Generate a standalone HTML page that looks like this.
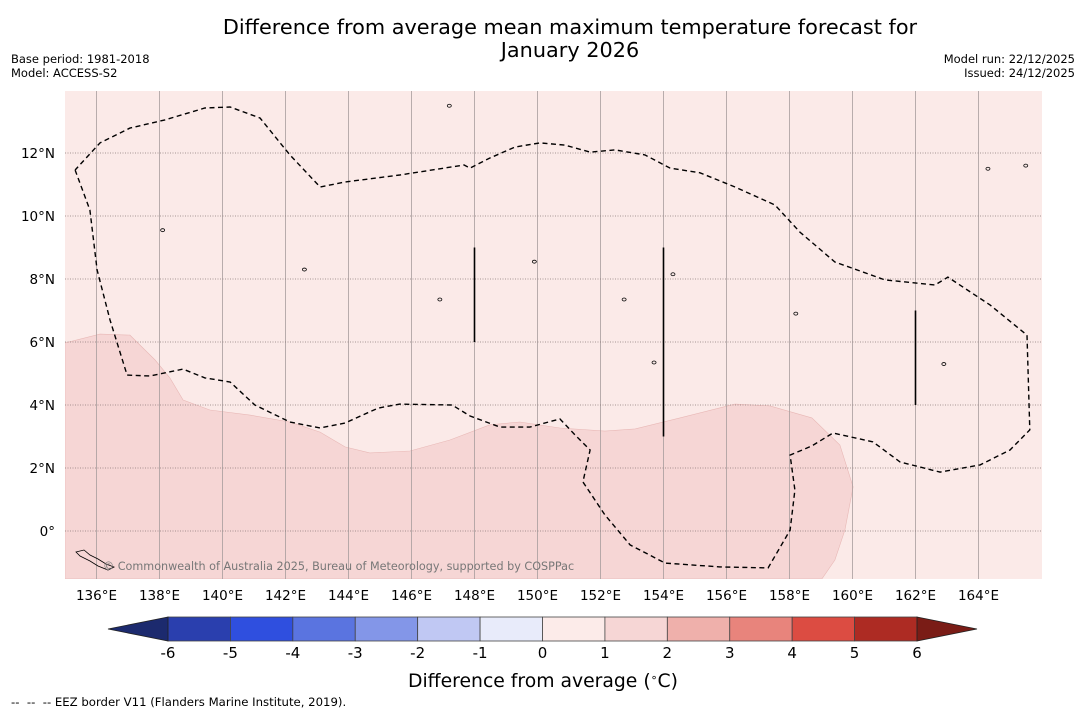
<!DOCTYPE html>
<html><head><meta charset="utf-8">
<style>
body{margin:0;background:#fff;width:1085px;height:713px;overflow:hidden;font-family:"DejaVu Sans","Liberation Sans",sans-serif;}
svg{display:block}
</style></head>
<body>
<svg id="chart" width="1085" height="713" xmlns="http://www.w3.org/2000/svg">
<text x="570" y="34" text-anchor="middle" font-size="20.8" fill="#000">Difference from average mean maximum temperature forecast for</text>
<text x="570" y="57" text-anchor="middle" font-size="20.8" fill="#000">January 2026</text>
<text x="11" y="63" font-size="11.5">Base period: 1981-2018</text>
<text x="11" y="77" font-size="11.5">Model: ACCESS-S2</text>
<text x="1075" y="63" font-size="11.5" text-anchor="end">Model run: 22/12/2025</text>
<text x="1075" y="77" font-size="11.5" text-anchor="end">Issued: 24/12/2025</text>
<g id="map"></g>
<g id="cbar"></g>
<text x="543" y="687" text-anchor="middle" font-size="18.8">Difference from average (<tspan dy="-6" font-size="11">∘</tspan><tspan dy="6">C)</tspan></text>
<text x="11" y="706" font-size="11.7" xml:space="preserve">--  --  -- EEZ border V11 (Flanders Marine Institute, 2019).</text>
</svg>
<script>
const lonTicks=[136,138,140,142,144,146,148,150,152,154,156,158,160,162,164];
const latTicks=[0,2,4,6,8,10,12];
const anomalyRegion=[[135,5.97],[136.11,6.25],[137.06,6.22],[137.86,5.43],[138.33,4.86],[138.75,4.16],[139.6,3.84],[140.87,3.68],[142.14,3.46],[143.1,3.14],[143.89,2.67],[144.68,2.48],[145.95,2.54],[147.22,2.89],[148.49,3.37],[149.44,3.46],[150.71,3.27],[152.14,3.17],[153.1,3.24],[154.52,3.59],[156.27,4.03],[157.38,3.97],[158.71,3.59],[159.6,2.73],[160.02,1.4],[159.76,0.03],[159.44,-0.92],[159.03,-1.52],[135,-1.52]];
const eezBorder=[[135.32,11.46],[135.79,10.19],[136.02,8.29],[136.43,6.7],[136.97,4.95],[137.7,4.92],[138.75,5.14],[139.44,4.86],[140.24,4.73],[141.03,4.0],[142.14,3.46],[143.1,3.27],[143.89,3.43],[144.94,3.9],[145.63,4.03],[147.29,4.0],[147.86,3.65],[148.81,3.3],[149.76,3.3],[150.71,3.56],[151.19,3.05],[151.67,2.57],[151.44,1.56],[152.14,0.51],[152.94,-0.44],[154.05,-1.02],[155.79,-1.14],[157.32,-1.17],[158.02,0.03],[158.17,1.3],[158.02,2.41],[158.71,2.7],[159.38,3.11],[160.65,2.83],[161.51,2.19],[162.78,1.87],[164.05,2.1],[165.0,2.57],[165.63,3.21],[165.54,6.22],[164.37,7.17],[163.03,8.06],[162.62,7.81],[161.03,7.97],[159.44,8.54],[158.33,9.49],[157.54,10.35],[156.27,10.92],[155.16,11.37],[154.21,11.52],[153.41,11.94],[152.46,12.1],[151.67,12.03],[150.87,12.25],[150.08,12.32],[149.29,12.19],[148.49,11.84],[147.86,11.52],[147.67,11.62],[145.63,11.3],[143.89,11.08],[143.1,10.92],[142.14,11.94],[141.19,13.11],[140.24,13.46],[139.44,13.43],[138.17,13.05],[137.06,12.79],[136.11,12.32],[135.32,11.46]];
const meridianSegments=[[148,6,9],[154,3,9],[162,4,7]];
const islands=[[147.2,13.5],[138.1,9.55],[142.6,8.3],[152.75,7.35],[158.2,6.9],[162.9,5.3],[153.7,5.35],[164.3,11.5],[165.5,11.6],[146.9,7.35],[149.9,8.55],[154.3,8.15]];
const cbLevels=[-6,-5,-4,-3,-2,-1,0,1,2,3,4,5,6];
const cbColors=["#2a3fae","#2f4fdf","#5a74e0","#8396e8","#c0c8f3","#e8ebfa","#fcebe9","#f6d6d5","#efb0ab","#e8847c","#dc4c42","#ad2b23"];
const cbExtend=["#1c2a6e","#7a1c16"];

const NS="http://www.w3.org/2000/svg";
const X0=65,X1=1042,Y0=91,Y1=579;
const lon0=135,lon1=135+(X1-X0)/31.5,lat1=(531-Y0)/31.5,lat0=(531-Y1)/31.5;
const xs=l=>X0+(l-lon0)/(lon1-lon0)*(X1-X0);
const ys=l=>Y1-(l-lat0)/(lat1-lat0)*(Y1-Y0);
function mk(tag,attrs,parent){const e=document.createElementNS(NS,tag);for(const k in attrs)e.setAttribute(k,attrs[k]);parent.appendChild(e);return e;}
const map=document.getElementById('map');
let e=mk('rect',{x:X0,y:Y0,width:X1-X0,height:Y1-Y0,fill:'#fbeae8'},map);


const cp=mk('clipPath',{id:'mc'},map);mk('rect',{x:X0,y:Y0,width:X1-X0,height:Y1-Y0},cp);
const g=mk('g',{'clip-path':'url(#mc)'},map);
e=mk('path',{d:'M'+anomalyRegion.map(p=>xs(p[0]).toFixed(1)+','+ys(p[1]).toFixed(1)).join('L')+'Z',fill:'#f6d6d5',stroke:'#e8b8b6','stroke-width':0.6},g);


lonTicks.forEach(l=>{const x=xs(l);
 e=mk('line',{x1:x,x2:x,y1:Y0,y2:Y1,stroke:'#a89c9c','stroke-width':0.8},g);
 
 
 e=mk('text',{x:x,y:600,'text-anchor':'middle','font-size':13.5},map);e.textContent=l+'°E';
 
 
});
latTicks.forEach(l=>{const y=ys(l);
 e=mk('line',{x1:X0,x2:X1,y1:y,y2:y,stroke:'#8a7a7a','stroke-width':0.8,'stroke-dasharray':'1,1.5'},g);
 
 
 e=mk('text',{x:55,y:y+5,'text-anchor':'end','font-size':13.5},map);e.textContent=(l===0?'0°':l+'°N');
 
 
});
meridianSegments.forEach(s=>{
 e=mk('line',{x1:xs(s[0]),x2:xs(s[0]),y1:ys(s[1]),y2:ys(s[2]),stroke:'#000','stroke-width':1.6},g);
 
 
});
islands.forEach(p=>{
 e=mk('ellipse',{cx:xs(p[0]),cy:ys(p[1]),rx:2,ry:1.5,fill:'none',stroke:'#000','stroke-width':0.8},g);
 
 
});
e=mk('path',{d:'M'+eezBorder.map(p=>xs(p[0]).toFixed(1)+','+ys(p[1]).toFixed(1)).join('L'),fill:'none',stroke:'#000','stroke-width':1.4,'stroke-dasharray':'5,3.5'},g);


e=mk('path',{d:'M76,552 l8,-2 l6,5 l8,4 l8,5 l8,3 l-6,3 l-10,-4 l-8,-5 l-10,-5z',fill:'none',stroke:'#000','stroke-width':0.8},g);


e=mk('text',{x:103,y:570,'font-size':11.2,fill:'#777'},map);e.textContent='© Commonwealth of Australia 2025, Bureau of Meteorology, supported by COSPPac';



const cb=document.getElementById('cbar');
const CX0=168,CX1=917,CY=617,CH=24;
const cx=v=>CX0+(v-cbLevels[0])/(cbLevels[cbLevels.length-1]-cbLevels[0])*(CX1-CX0);
cbColors.forEach((c,i)=>{
 e=mk('rect',{x:cx(cbLevels[i]),y:CY,width:cx(cbLevels[i+1])-cx(cbLevels[i]),height:CH,fill:c,stroke:'#444','stroke-width':0.8},cb);
 
 
});
e=mk('polygon',{points:`${CX0},${CY} 108,${CY+CH/2} ${CX0},${CY+CH}`,fill:cbExtend[0],stroke:'#222','stroke-width':0.8},cb);


e=mk('polygon',{points:`${CX1},${CY} 977,${CY+CH/2} ${CX1},${CY+CH}`,fill:cbExtend[1],stroke:'#222','stroke-width':0.8},cb);


cbLevels.forEach(v=>{
 e=mk('text',{x:cx(v),y:658,'text-anchor':'middle','font-size':15},cb);e.textContent=v;
 
 
});
</script>
</body></html>
